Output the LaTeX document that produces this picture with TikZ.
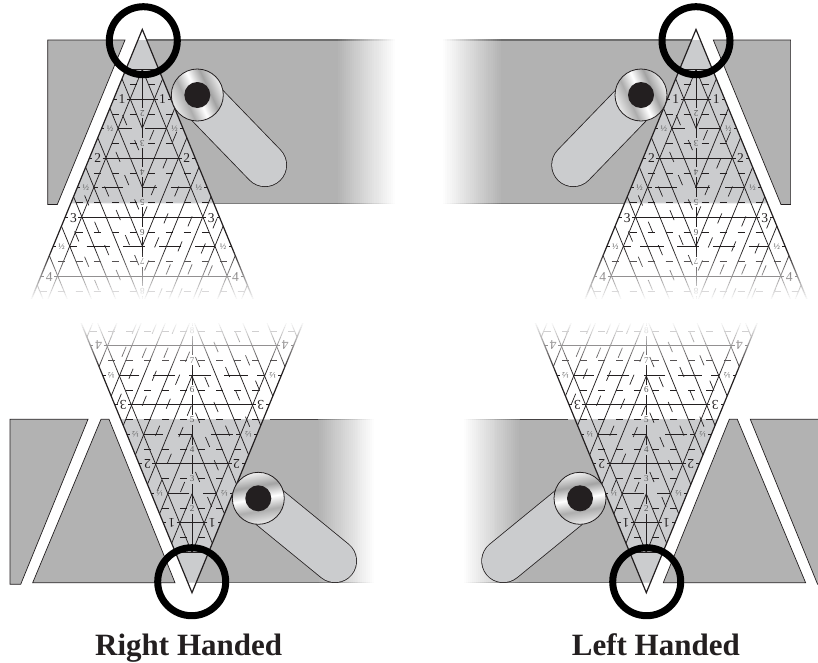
\documentclass[tikz,border=0pt]{standalone}
\usepackage{fontspec}
\setmainfont{Liberation Serif}
\definecolor{ink}{HTML}{231F20}
\definecolor{bandgray}{HTML}{B2B2B2}
\definecolor{rulergray}{HTML}{CBCCCE}
\definecolor{edgegray}{HTML}{6E6E6E}
\pgfdeclarehorizontalshading{metal}{100bp}{color(0bp)=(black!8);color(25bp)=(black!8);color(38bp)=(black!32);color(50bp)=(white);color(62bp)=(black!36);color(75bp)=(black!6);color(100bp)=(black!6)}
\tikzset{
  piece/.style={fill=bandgray,draw=ink,line width=.7pt},
  outeredge/.style={draw=ink,line width=1.2pt},
  latline/.style={draw=ink,line width=.75pt},
  rowline/.style={draw=ink,line width=.8pt},
  minor/.style={draw=ink,line width=.7pt},
  numlab/.style={font=\fontsize{13.5}{13.5}\selectfont,text=ink,inner sep=0pt},
  halflab/.style={font=\fontsize{8.5}{8.5}\selectfont,text=black!65,inner sep=0pt},
  ctrlab/.style={font=\fontsize{9}{9}\selectfont,text=black!65,inner sep=0pt,rotate=180},
  bigring/.style={draw=black,line width=7pt},
  title/.style={font=\fontsize{31}{31}\selectfont\bfseries,text=ink,inner sep=0pt,anchor=base},
}
% #1 x0, #2 x1, #3 y0, #4 y1, #5 colour: fades from colour at x0 to white at x1
\newcommand{\FadeRect}[5]{%
  \foreach \i in {0,...,29}{
    \pgfmathsetmacro{\xa}{#1+(#2-#1)*\i/30}
    \pgfmathsetmacro{\xb}{#1+(#2-#1)*(\i+1.3)/30}
    \pgfmathtruncatemacro{\pc}{100-100*\i/29}
    \fill[#5!\pc!white] (\xa,#3) rectangle (\xb,#4);
  }
}
% ruler drawn with apex at local origin, v pointing down
\newcommand{\RulerBody}{%
  \foreach \a/\b in {40/79,89/109,119/138,148/168,178/198,208/228,238/257,267/272}
    \draw[minor] (0,\a) -- (0,\b);
  \draw[latline] (0,40) -- (-95.3,272);
  \draw[latline] (0,40) -- (95.3,272);
  \foreach \vc in {98.9,157.8,216.7,275.6,334.5,393.4,452.3,511.2}{
    \pgfmathsetmacro{\ve}{\vc/2}
    \pgfmathsetmacro{\ue}{.411*\ve}
    \pgfmathsetmacro{\vb}{min(\vc,272)}
    \pgfmathsetmacro{\ub}{.411*(\vc-\vb)}
    \draw[latline] (\ub,\vb) -- (\ue,\ve);
    \draw[latline] (-\ub,\vb) -- (-\ue,\ve);
  }
  \foreach \v/\t in {70/1,129/2,188.2/3,247.3/4}{
    \pgfmathsetmacro{\ue}{.411*\v}
    \pgfmathsetmacro{\un}{.411*(\v-40)}
    \pgfmathsetmacro{\ut}{\ue-8.5}
    \draw[rowline] (-\un,\v) -- (\un,\v);
    \draw[minor] (-\ue,\v) -- ({-\ue+3},\v) ({-\un-3},\v) -- (-\un,\v) (\ue,\v) -- ({\ue-3},\v) ({\un+3},\v) -- (\un,\v);
    \node[numlab] at (-\ut,\v) {\t};
    \node[numlab] at (\ut,\v) {\t};
  }
  \foreach \v in {99.3,158.1,217.2}{
    \pgfmathsetmacro{\ue}{.411*\v}
    \pgfmathsetmacro{\ut}{\ue-8.5}
    \draw[minor] (-\ue,\v) -- ({-\ue+3},\v) (\ue,\v) -- ({\ue-3},\v);
    \node[halflab] at (-\ut,\v) {½};
    \node[halflab] at (\ut,\v) {½};
  }
  \draw[rowline] (-24.5,99.3) -- (-10.6,99.3) (2.7,99.3) -- (24.5,99.3);
  \draw[rowline] (-48.5,158.1) -- (-44,158.1) (-40.7,158.1) -- (-19,158.1) (-.7,158.1) -- (14.3,158.1) (29,158.1) -- (48.5,158.1);
  \draw[rowline] (-72.7,217.2) -- (-65,217.2) (-55.6,217.2) -- (-32,217.2) (-19,217.2) -- (2.7,217.2) (17,217.2) -- (39,217.2) (52.7,217.2) -- (72.7,217.2);
  \draw[rowline] (-12.5,40) -- (12.5,40);
  \foreach \v in {55.4,84.7,114,143.5,173,202.6,232,261.6}{
    \foreach \k in {0,...,7}{
      \pgfmathsetmacro{\c}{9+18*\k}
      \pgfmathtruncatemacro{\ok}{(\c+4)<(.411*\v)?1:0}
      \ifnum\ok=1
        \draw[minor] ({\c-3.5},\v) -- ({\c+3.5},\v) ({-\c-3.5},\v) -- ({-\c+3.5},\v);
      \fi
    }
  }
  \foreach \v/\t in {84.3/2,114/3,143.5/4,173.3/5,202.8/6,232.3/7,261.8/8}
    \node[ctrlab] at (0,\v) {\t};
  \foreach \u/\v in {9.4/105.7,32.4/107.4,22.7/134,11/160.7,34.4/162,2.7/182,23.7/189,47.7/192,72.7/194,14.4/213,37.7/217,61/219,4.4/236,26/240,47.7/240,68/241,17.7/264,37.7/264,57.7/264,77.7/264}
    \draw[minor] ({\u-2.1},{\v+5}) -- ({\u+2.1},{\v-5});
  \foreach \u/\v in {-17.6/90.7,-5.6/115.7,-24.3/127.5,-15.6/150.7,-35.6/162,-55.6/171,-5.6/175,-24/185.7,-45.6/197.4,-65.6/207,-14.9/210.7,-35.6/220.7,-55.6/232.4,-5.6/230.7,-24/245.7,-45.6/255.7}
    \draw[minor] ({\u-2.1},{\v-5}) -- ({\u+2.1},{\v+5});
  \draw[outeredge,line join=miter] (-111.8,272) -- (0,0) -- (111.8,272);
  \foreach \i in {1,...,25}{
    \pgfmathsetmacro{\vs}{222+(\i-1)*2}
    \pgfmathsetmacro{\op}{1/(26-\i)}
    \fill[white,opacity=\op] (-130,\vs) rectangle (130,273);
  }
}
\newcommand{\TopBand}{%
  \path[piece] (47.7,40) -- (125,40) -- (57.3,204.5) -- (47.7,204.5) -- cycle;
  \fill[bandgray] (138,40) -- (336,40) -- (336,203) -- (70.5,203) -- cycle;
  \FadeRect{335.5}{397}{40}{203}{bandgray}
  \FadeRect{335.5}{397}{39.4}{40.6}{edgegray}
  \FadeRect{335.5}{397}{202.6}{203.6}{bandgray!70!black}
  \fill[edgegray] (146,39.4) rectangle (336,40.6);
  \fill[bandgray!70!black] (214,202.6) rectangle (336,203.6);
}
\newcommand{\BotBand}{%
  \path[piece] (10,419.3) -- (88,419.3) -- (20.7,584.3) -- (10,584.3) -- cycle;
  \path[piece] (101,419.3) -- (109,419.3) -- (175,582.7) -- (32.7,582.7) -- cycle;
  \fill[bandgray] (120.7,419.3) -- (318,419.3) -- (318,582.7) -- (187.9,582.7) -- cycle;
  \FadeRect{317.5}{376}{419.3}{582.7}{bandgray}
  \FadeRect{317.5}{376}{418.8}{419.9}{edgegray}
  \FadeRect{317.5}{376}{582.2}{583.2}{edgegray}
  \fill[ink!85] (270,418.8) rectangle (318,419.9);
  \fill[edgegray] (196,582.2) rectangle (318,583.2);
}
\newcommand{\Knob}[5]{% cx cy ex ey angle
  \draw[ink,line width=44pt,line cap=round] (#1,#2) -- (#3,#4);
  \draw[rulergray,line width=42.4pt,line cap=round] (#1,#2) -- (#3,#4);
  \shade[shading=metal,shading angle=#5,draw=ink,line width=.8pt] (#1,#2) circle[radius=26];
  \fill[ink] (#1,#2) circle[radius=13];
}
\begin{document}
\begin{tikzpicture}[x=1pt,y=-1pt]
\useasboundingbox (0,0) rectangle (818,662);
\fill[white] (0,0) rectangle (818,662);
\TopBand
\BotBand
\begin{scope}
  \clip (0,0) rectangle (818,662);
  \begin{scope}[shift={(838.3,0)},xscale=-1]
    \TopBand
    \BotBand
  \end{scope}
\end{scope}
\foreach \ax in {142.3,696}
  \fill[rulergray] ({\ax-.411*10.6},40) -- ({\ax+.411*10.6},40) -- ({\ax+.411*173.6},203) -- ({\ax-.411*173.6},203) -- cycle;
\foreach \ax in {192,646.3}
  \fill[rulergray] ({\ax-.411*173.4},419.3) -- ({\ax+.411*173.4},419.3) -- ({\ax+.411*10},582.7) -- ({\ax-.411*10},582.7) -- cycle;
\begin{scope}[shift={(142.3,29.4)}]\RulerBody\end{scope}
\begin{scope}[shift={(696,29.4)}]\RulerBody\end{scope}
\begin{scope}[shift={(192,592.7)},rotate=180,every node/.append style={transform shape}]\RulerBody\end{scope}
\begin{scope}[shift={(646.3,592.7)},rotate=180,every node/.append style={transform shape}]\RulerBody\end{scope}
\Knob{197.3}{95}{265}{165}{25}
\Knob{258.3}{498.3}{335}{561}{100}
\Knob{641}{95}{573.3}{165}{25}
\Knob{580}{498.3}{503.3}{561}{100}
\draw[bigring] (143.3,40.7) circle[radius=34];
\draw[bigring] (696,40.7) circle[radius=34];
\draw[bigring] (191.7,581.7) circle[radius=34];
\draw[bigring] (646.7,581.7) circle[radius=34];
\node[title] (rh) at (188.7,655) {Right Handed};
\node[title] (lh) at (655.8,655) {Left Handed};
\end{tikzpicture}
\end{document}
